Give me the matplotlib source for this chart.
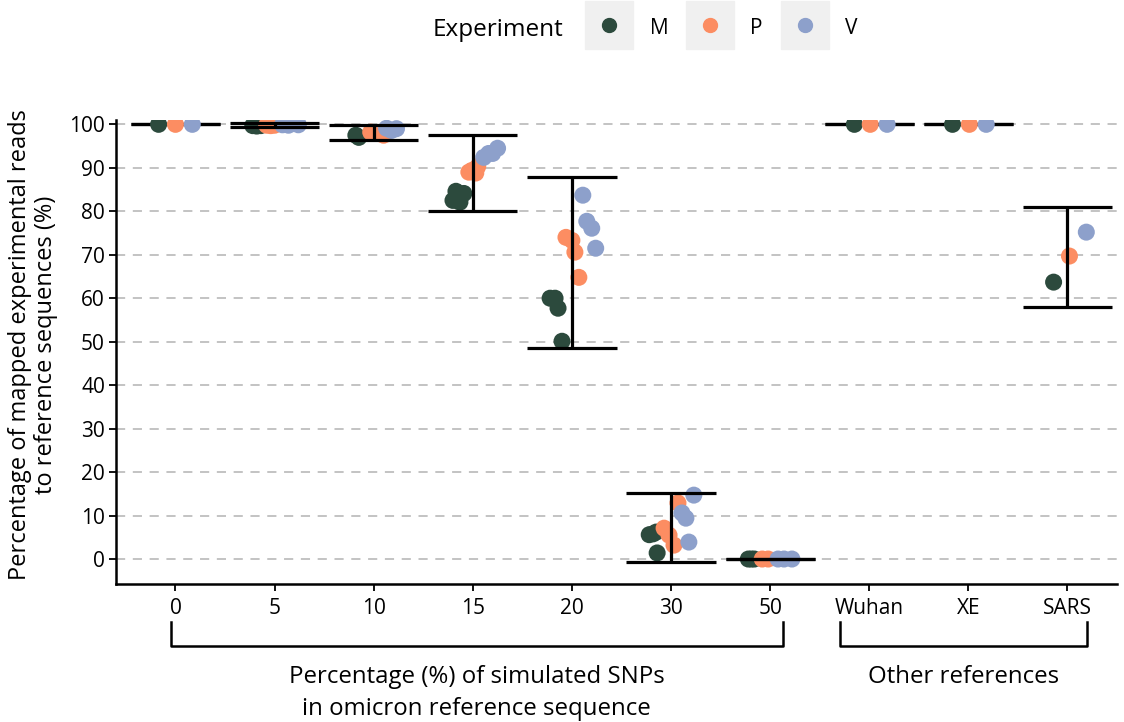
import numpy as np
import matplotlib
matplotlib.use("Agg")
import matplotlib.pyplot as plt
import matplotlib.transforms as mtransforms
from matplotlib.lines import Line2D
from matplotlib.legend_handler import HandlerTuple

plt.rcParams['font.family'] = ['Open Sans', 'DejaVu Sans']

# categories on the x axis
categories = ['0', '5', '10', '15', '20', '30', '50', 'Wuhan', 'XE', 'SARS']
groups = ['M', 'P', 'V']
colors = ['#2c4a3d', '#fc8d62', '#8da0cb']

# values per experiment (y) and horizontal jitter offsets (dx)
m_y = [[100], [99.7, 99.6, 99.7], [97.5, 97.0], [82.5, 84.6, 84.1, 82.1],
       [60.0, 60.0, 57.7, 50.1], [5.6, 5.8, 6.2, 1.4], [0, 0, 0], [100], [100], [63.7]]
m_dx = [[-0.17], [-0.22, -0.18, -0.14], [-0.18, -0.15], [-0.20, -0.17, -0.09, -0.13],
        [-0.22, -0.17, -0.14, -0.10], [-0.22, -0.18, -0.15, -0.14], [-0.22, -0.19, -0.16],
        [-0.15], [-0.16], [-0.14]]
p_y = [[100], [99.8, 99.7, 99.8], [98.2, 97.5], [89.0, 89.4, 88.8, 90.3],
       [74.0, 73.3, 70.6, 64.8], [7.1, 5.5, 3.2, 12.9], [0, 0], [100], [100], [69.7]]
p_dx = [[0.0], [-0.08, -0.04, 0.0], [-0.03, 0.10], [-0.04, -0.01, 0.03, 0.05],
        [-0.06, 0.0, 0.03, 0.07], [-0.07, -0.02, 0.03, 0.07], [-0.08, -0.02],
        [0.01], [0.01], [0.02]]
v_y = [[100], [99.9, 99.8, 99.9], [99.1, 99.0, 98.6], [92.4, 93.3, 94.5, 93.3],
       [83.7, 77.7, 76.1, 71.5], [14.7, 10.6, 9.4, 3.9], [0, 0, 0], [100], [100], [75.2]]
v_dx = [[0.17], [0.08, 0.14, 0.24], [0.13, 0.23, 0.18], [0.11, 0.16, 0.25, 0.20],
        [0.11, 0.15, 0.20, 0.24], [0.23, 0.11, 0.15, 0.18], [0.08, 0.14, 0.22],
        [0.18], [0.18], [0.19]]

# error bar ranges
err_lo = [100, 99.5, 96.3, 80.0, 48.5, -0.7, 0, 100, 100, 58.0]
err_hi = [100, 100.2, 99.9, 97.5, 88.0, 15.2, 0, 100, 100, 81.0]

fig = plt.figure(figsize=(11.24, 7.22), dpi=100)
ax = fig.add_axes([0.1032, 0.1911, 0.8906, 0.6427])

xs = np.arange(len(categories))
for ys, dxs, col in [(m_y, m_dx, colors[0]), (p_y, p_dx, colors[1]), (v_y, v_dx, colors[2])]:
    for i in range(len(categories)):
        ax.scatter(xs[i] + np.array(dxs[i]), ys[i], s=150, color=col,
                   edgecolors='none', zorder=3)

for i in range(len(categories)):
    z = 2 if err_lo[i] == err_hi[i] == 100 else 4
    ax.hlines([err_lo[i], err_hi[i]], xs[i] - 0.45, xs[i] + 0.45, color='black', lw=2.3, zorder=z)
    ax.vlines(xs[i], err_lo[i], err_hi[i], color='black', lw=2.3, zorder=z)

ax.set_xlim(-0.6, 9.5)
ax.set_ylim(-5.75, 101)
ax.set_yticks(np.arange(0, 101, 10))
ax.set_xticks(xs)
ax.set_xticklabels(categories)
ax.yaxis.grid(True, color='#b3b3b3', linestyle=(0, (6, 5)), lw=1.1)
ax.set_axisbelow(True)
for s in ['top', 'right']:
    ax.spines[s].set_visible(False)
for s in ['left', 'bottom']:
    ax.spines[s].set_linewidth(1.8)
ax.tick_params(axis='both', labelsize=15, length=5, width=1.3, pad=3, colors='black')
ax.tick_params(axis='x', pad=5)
ax.set_ylabel('Percentage of mapped experimental reads\nto reference sequences (%)',
              fontsize=17, linespacing=1.1)
ax.yaxis.set_label_coords(-0.058, 0.515)

# group brackets below the x axis
trans = mtransforms.blended_transform_factory(ax.transData, ax.transAxes)
for x0, x1, label in [(-0.05, 6.13, 'Percentage (%) of simulated SNPs\nin omicron reference sequence'),
                      (6.7, 9.2, 'Other references')]:
    ax.plot([x0, x0, x1, x1], [-0.082, -0.134, -0.134, -0.082], color='black', lw=1.8,
            transform=trans, clip_on=False)
    ax.text((x0 + x1) / 2, -0.175, label, transform=trans, ha='center', va='top',
            fontsize=17.3, linespacing=1.45)

# legend
fig.text(433 / 1124, 1 - 30 / 722, 'Experiment', fontsize=17.5, ha='left', va='center')
handles = [(Line2D([], [], marker='s', color='#f0f0f0', linestyle='', markersize=34),
            Line2D([], [], marker='o', color=c, linestyle='', markersize=10)) for c in colors]
fig.legend(handles, groups, handler_map={tuple: HandlerTuple(ndivide=1)},
           loc='center left', bbox_to_anchor=(585 / 1124, 1 - 28 / 722), ncol=3,
           frameon=False, fontsize=15, handlelength=2.3, handleheight=1.0,
           handletextpad=0.8, columnspacing=0.85, borderpad=0, borderaxespad=0)

fig.savefig('out.png', dpi=100, facecolor='white')
